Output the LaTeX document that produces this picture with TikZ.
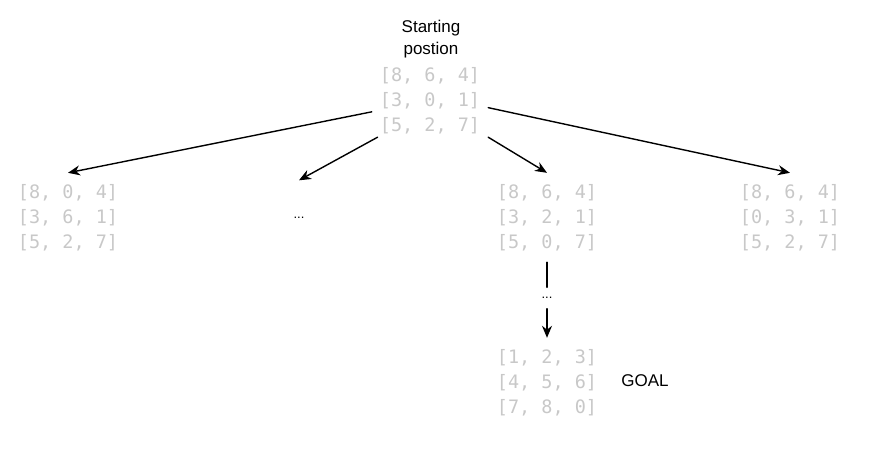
\documentclass[tikz,border=0pt]{standalone}
\usepackage{fontspec}
\setmainfont{Liberation Sans}
\setmonofont{DejaVu Sans Mono}
\usetikzlibrary{arrows.meta}
\definecolor{xam}{RGB}{200,200,200}
\begin{document}
\begin{tikzpicture}[x=1pt, y=-1pt, line join=round, line cap=round, line width=1.4pt,
			>={Stealth[length=12pt,width=10pt]},
			trangthai/.style={text=xam, font=\fontsize{18.5}{25}\selectfont\ttfamily, align=center, inner sep=0pt, minimum width=115, minimum height=88},
			chu/.style={font=\fontsize{17}{22}\selectfont, align=center, inner sep=0pt},
			cham/.style={font=\fontsize{13}{13}\selectfont, inner sep=0pt}]
			\useasboundingbox (0,0) rectangle (871,448);
			\node[chu] (tieude) at (431,39) {Starting\\postion};
			\node[trangthai, minimum height=72] (goc) at (430,100.5) {{[8, 6, 4]}\\{[3, 0, 1]}\\{[5, 2, 7]}};
			\node[trangthai] (con1) at (68,217.5) {{[8, 0, 4]}\\{[3, 6, 1]}\\{[5, 2, 7]}};
			\node[cham, minimum height=74] (cham1) at (299,218) {...};
			\node[trangthai] (con3) at (547,217.5) {{[8, 6, 4]}\\{[3, 2, 1]}\\{[5, 0, 7]}};
			\node[trangthai] (con4) at (790,217.5) {{[8, 6, 4]}\\{[0, 3, 1]}\\{[5, 2, 7]}};
			\node[cham, minimum height=20] (cham2) at (547,298) {...};
			\node[trangthai] (dich) at (547,382.5) {{[1, 2, 3]}\\{[4, 5, 6]}\\{[7, 8, 0]}};
			\node[chu] (nhan) at (645,381) {GOAL};
			
			\foreach \a/\b in {goc.191/con1.north, goc.215/cham1.north, goc.south east/con3.north, goc.-7/con4.north, cham2.south/dich.north}{
				\draw[->] (\a)--(\b);
			}
			\draw (con3.south)--(cham2.north);
\end{tikzpicture}
\end{document}
